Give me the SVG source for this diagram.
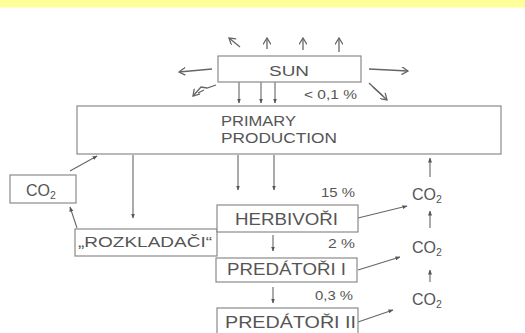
<svg xmlns="http://www.w3.org/2000/svg" width="525" height="333" viewBox="0 0 525 333">
<defs>
<marker id="fa" viewBox="0 0 10 10" refX="9" refY="5" markerWidth="5" markerHeight="5" orient="auto" markerUnits="userSpaceOnUse">
<path d="M0,1 L10,5 L0,9 z" fill="#555"/>
</marker>
<marker id="oa" viewBox="0 0 10 10" refX="9" refY="5" markerWidth="8" markerHeight="8" orient="auto" markerUnits="userSpaceOnUse">
<path d="M1,0 L9,5 L1,10" fill="none" stroke="#666" stroke-width="1.6"/>
</marker>
</defs>
<style>
.box{fill:#fff;stroke:#8a8a8a;stroke-width:1.2}
.t{font-family:"Liberation Sans",Arial,sans-serif;fill:#555}
.c{stroke:#666;stroke-width:1.1;fill:none}
.ray{stroke:#666;stroke-width:1.3;fill:none}
.co{font-size:16px}
.sub{font-size:10.5px}
</style>
<rect x="0" y="0" width="525" height="7.5" fill="#ffff99"/>
<g id="connectors">
<path class="ray" d="M240,47 L229,38" marker-end="url(#oa)"/>
<path class="ray" d="M267,49 L267,38" marker-end="url(#oa)"/>
<path class="ray" d="M303,50 L303,38" marker-end="url(#oa)"/>
<path class="ray" d="M339,52 L339,38" marker-end="url(#oa)"/>
<path class="ray" d="M212,69 L179,72" marker-end="url(#oa)"/>
<path class="ray" d="M369,69 L408,71" marker-end="url(#oa)"/>
<path class="ray" d="M216,85 L207,88 L201,87 L193,96" marker-end="url(#oa)"/>
<path class="ray" d="M198,93 L204,90"/>
<path class="ray" d="M369,83 L387,100" marker-end="url(#oa)"/>
<path class="ray" d="M373,87 L383,96"/>
<path class="c" d="M239,82 L239,103" marker-end="url(#fa)"/>
<path class="c" d="M261,82 L261,103" marker-end="url(#fa)"/>
<path class="c" d="M275,82 L275,103" marker-end="url(#fa)"/>
<path class="c" d="M70,171 L97,156" marker-end="url(#fa)"/>
<path class="c" d="M133,155 L133,218" marker-end="url(#fa)"/>
<path class="c" d="M77,228 L70,207" marker-end="url(#fa)"/>
<path class="c" d="M238,155 L238,190" marker-end="url(#fa)"/>
<path class="c" d="M274,155 L274,190" marker-end="url(#fa)"/>
<path class="c" d="M273,235 L273,251" marker-end="url(#fa)"/>
<path class="c" d="M273,287 L273,303" marker-end="url(#fa)"/>
<path class="c" d="M358,218 L407,206" marker-end="url(#fa)"/>
<path class="c" d="M358,270 L400,257" marker-end="url(#fa)"/>
<path class="c" d="M358,322 L393,310" marker-end="url(#fa)"/>
<path class="c" d="M430,177 L430,158" marker-end="url(#fa)"/>
<path class="c" d="M430,228 L430,211" marker-end="url(#fa)"/>
<path class="c" d="M430,282 L430,270" marker-end="url(#fa)"/>
</g>
<g id="sun">
<rect class="box" x="218" y="56" width="143" height="26"/>
<text class="t" x="269" y="75.5" font-size="15.5" textLength="40" lengthAdjust="spacingAndGlyphs">SUN</text>
</g>
<text class="t" x="304" y="99" font-size="13.5" textLength="53" lengthAdjust="spacingAndGlyphs">&lt; 0,1 %</text>
<g id="primary">
<rect class="box" x="77" y="106" width="424" height="48"/>
<text class="t" x="221" y="126" font-size="14.5" textLength="75" lengthAdjust="spacingAndGlyphs">PRIMARY</text>
<text class="t" x="221" y="143" font-size="14.5" textLength="116" lengthAdjust="spacingAndGlyphs">PRODUCTION</text>
</g>
<g id="co2left">
<rect class="box" x="10" y="175" width="66" height="28"/>
<text class="t co" x="26" y="196">CO<tspan class="sub" dy="3">2</tspan></text>
</g>
<g id="rozkladaci">
<rect class="box" x="75" y="229" width="142" height="27"/>
<text class="t" x="78" y="247" font-size="15" textLength="134" lengthAdjust="spacingAndGlyphs">„ROZKLADAČI“</text>
</g>
<g id="herbivori">
<rect class="box" x="217" y="205" width="141" height="27"/>
<text class="t" x="235" y="225" font-size="16" textLength="103" lengthAdjust="spacingAndGlyphs">HERBIVOŘI</text>
</g>
<text class="t" x="321" y="197" font-size="13.5" textLength="34" lengthAdjust="spacingAndGlyphs">15 %</text>
<text class="t" x="328" y="248" font-size="13.5" textLength="27" lengthAdjust="spacingAndGlyphs">2 %</text>
<g id="predatori1">
<rect class="box" x="216" y="258" width="141" height="24"/>
<text class="t" x="227" y="275" font-size="16" textLength="119" lengthAdjust="spacingAndGlyphs">PREDÁTOŘI I</text>
</g>
<text class="t" x="315" y="300" font-size="13.5" textLength="38" lengthAdjust="spacingAndGlyphs">0,3 %</text>
<g id="predatori2">
<rect class="box" x="217" y="308" width="141" height="30"/>
<text class="t" x="225" y="328" font-size="16" textLength="131" lengthAdjust="spacingAndGlyphs">PREDÁTOŘI II</text>
</g>
<g id="co2a"><text class="t co" x="412" y="200">CO<tspan class="sub" dy="3">2</tspan></text></g>
<g id="co2b"><text class="t co" x="412" y="253">CO<tspan class="sub" dy="3">2</tspan></text></g>
<g id="co2c"><text class="t co" x="412" y="305">CO<tspan class="sub" dy="3">2</tspan></text></g>
</svg>
